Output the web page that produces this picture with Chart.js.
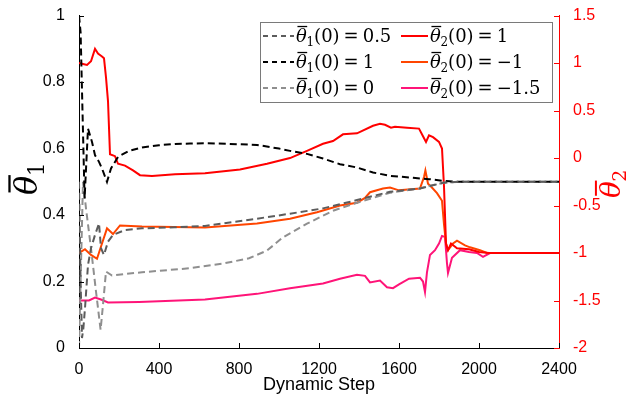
<!DOCTYPE html>
<html>
<head>
<meta charset="utf-8">
<script src="https://cdn.jsdelivr.net/npm/chart.js@4.4.0/dist/chart.umd.min.js"></script>
<style>
  html, body { margin: 0; padding: 0; background: #fff; }
  #wrap { width: 626px; height: 401px; }
</style>
</head>
<body>
<div id="wrap"><canvas id="chart"></canvas></div>
<script>
// theta1 series (left axis)
const stepsT1a = [0, 8, 15, 22, 30, 45, 60, 80, 100, 110, 125, 145, 170, 230, 315, 480, 630, 890, 1055, 1220, 1390, 1555, 1705, 1820, 1900, 2400];
const valsT1a  = [0.5, 0.2, 0.03, 0.06, 0.12, 0.25, 0.3, 0.34, 0.375, 0.3, 0.28, 0.32, 0.34, 0.355, 0.36, 0.363, 0.367, 0.389, 0.404, 0.42, 0.445, 0.47, 0.48, 0.497, 0.5, 0.5];

const stepsT1b = [0, 8, 18, 28, 36, 45, 55, 65, 80, 100, 115, 140, 160, 195, 250, 315, 400, 480, 555, 630, 750, 890, 1000, 1055, 1140, 1220, 1305, 1390, 1470, 1555, 1670, 1750, 1820, 1900, 2400];
const valsT1b  = [1.0, 0.95, 0.7, 0.45, 0.55, 0.66, 0.64, 0.62, 0.58, 0.56, 0.54, 0.5, 0.54, 0.575, 0.593, 0.603, 0.61, 0.614, 0.615, 0.616, 0.614, 0.611, 0.6, 0.593, 0.584, 0.57, 0.553, 0.543, 0.528, 0.518, 0.512, 0.508, 0.503, 0.5, 0.5];

const stepsT1c = [0, 10, 20, 35, 60, 85, 108, 120, 135, 165, 315, 555, 720, 850, 940, 1020, 1140, 1270, 1390, 1555, 1700, 1820, 1900, 2400];
const valsT1c  = [0, 0.25, 0.5, 0.42, 0.3, 0.17, 0.055, 0.13, 0.23, 0.218, 0.228, 0.24, 0.254, 0.27, 0.293, 0.333, 0.374, 0.413, 0.437, 0.467, 0.48, 0.497, 0.5, 0.5];

// theta2 series (right axis)
const stepsT2a = [0, 20, 40, 60, 80, 95, 115, 125, 135, 145, 155, 180, 195, 230, 270, 305, 365, 480, 630, 805, 940, 1055, 1140, 1220, 1270, 1320, 1390, 1470, 1505, 1530, 1560, 1580, 1640, 1700, 1720, 1735, 1750, 1770, 1800, 1815, 1825, 1835, 1845, 1860, 1890, 1950, 2000, 2050, 2400];
const valsT2a  = [1.0, 0.99, 0.98, 1.02, 1.15, 1.1, 1.07, 1.05, 0.85, 0.6, 0.04, 0.02, -0.06, -0.08, -0.13, -0.18, -0.19, -0.17, -0.16, -0.12, -0.06, 0.0, 0.075, 0.15, 0.18, 0.25, 0.26, 0.34, 0.36, 0.35, 0.32, 0.33, 0.32, 0.31, 0.23, 0.17, 0.24, 0.22, 0.17, 0.1, -0.3, -0.9, -0.97, -0.9, -0.95, -0.96, -0.99, -1.0, -1.0];

const stepsT2b = [0, 15, 30, 60, 90, 115, 140, 170, 205, 315, 630, 890, 1055, 1190, 1305, 1390, 1430, 1455, 1520, 1555, 1600, 1705, 1725, 1732, 1745, 1760, 1790, 1815, 1825, 1835, 1845, 1870, 1890, 1930, 1955, 2005, 2040, 2400];
const valsT2b  = [-1.0, -0.98, -0.96, -1.02, -1.06, -0.9, -0.74, -0.8, -0.71, -0.72, -0.73, -0.69, -0.64, -0.57, -0.5, -0.47, -0.42, -0.36, -0.32, -0.31, -0.34, -0.32, -0.2, -0.13, -0.27, -0.3, -0.37, -0.45, -0.7, -0.9, -0.97, -0.9, -0.87, -0.92, -0.94, -0.97, -1.0, -1.0];

const stepsT2c = [0, 50, 80, 110, 145, 300, 630, 890, 1055, 1220, 1305, 1390, 1430, 1455, 1505, 1540, 1570, 1600, 1650, 1705, 1720, 1730, 1740, 1755, 1780, 1800, 1815, 1830, 1840, 1845, 1865, 1905, 1950, 1990, 2020, 2055, 2400];
const valsT2c  = [-1.5, -1.5, -1.47, -1.49, -1.52, -1.515, -1.49, -1.43, -1.37, -1.32, -1.27, -1.23, -1.24, -1.31, -1.29, -1.36, -1.37, -1.33, -1.27, -1.26, -1.3, -1.41, -1.2, -1.02, -0.97, -0.9, -0.82, -0.83, -1.11, -1.21, -1.05, -0.97, -0.99, -1.0, -1.04, -1.0, -1.0];

const series = [
  { sub: '1', init: '0.5',  steps: stepsT1a, vals: valsT1a, axis: 'y',  color: '#5c5c5c', dash: [7, 4] },
  { sub: '1', init: '1',    steps: stepsT1b, vals: valsT1b, axis: 'y',  color: '#000000', dash: [7, 4] },
  { sub: '1', init: '0',    steps: stepsT1c, vals: valsT1c, axis: 'y',  color: '#8f8f8f', dash: [7, 4] },
  { sub: '2', init: '1',    steps: stepsT2a, vals: valsT2a, axis: 'y2', color: '#ff0000', dash: [] },
  { sub: '2', init: '\u22121',   steps: stepsT2b, vals: valsT2b, axis: 'y2', color: '#ff4500', dash: [] },
  { sub: '2', init: '\u22121.5', steps: stepsT2c, vals: valsT2c, axis: 'y2', color: '#ff1478', dash: [] }
];

const datasets = series.map(s => ({
  label: '\u03B8\u0304' + (s.sub === '1' ? '\u2081' : '\u2082') + '(0) = ' + s.init,
  sub: s.sub,
  init: s.init,
  data: s.steps.map((x, i) => ({ x: x, y: s.vals[i] })),
  yAxisID: s.axis,
  borderColor: s.color,
  borderWidth: 2,
  borderDash: s.dash,
  pointRadius: 0,
  tension: 0,
  fill: false
}));

const tickFont = { family: '"Liberation Sans", Arial, sans-serif', size: 16 };
const plainNum = v => String(parseFloat(Number(v).toFixed(2)));

function line(ctx, x1, y1, x2, y2) {
  ctx.beginPath(); ctx.moveTo(x1, y1); ctx.lineTo(x2, y2); ctx.stroke();
}

// draws overlined italic theta with a subscript, returns advance
function drawTheta(ctx, x, y, sub, size, color) {
  ctx.fillStyle = color;
  ctx.strokeStyle = color;
  ctx.textBaseline = 'alphabetic';
  ctx.textAlign = 'left';
  ctx.font = 'italic ' + size + 'px "DejaVu Serif", serif';
  const w = ctx.measureText('\u03B8').width;
  ctx.fillText('\u03B8', x, y);
  ctx.lineWidth = Math.max(1, size / 14);
  line(ctx, x + size * 0.08, y - size * 0.86, x + w + size * 0.02, y - size * 0.86);
  ctx.font = Math.round(size * 0.68) + 'px "DejaVu Serif", serif';
  ctx.fillText(sub, x + w - size * 0.02, y + size * 0.22);
  return w - size * 0.02 + ctx.measureText(sub).width;
}

const overlay = {
  id: 'overlay',
  afterDraw(chart) {
    const ctx = chart.ctx;
    const { x, y, y2 } = chart.scales;
    ctx.save();
    // inward ticks
    ctx.lineWidth = 1;
    ctx.strokeStyle = '#000';
    x.ticks.forEach(t => {
      const px = Math.round(x.getPixelForValue(t.value)) + 0.5;
      line(ctx, px, x.top, px, x.top - 5);
    });
    y.ticks.forEach(t => {
      const py = Math.round(y.getPixelForValue(t.value)) + 0.5;
      line(ctx, y.right, py, y.right + 5, py);
    });
    ctx.strokeStyle = '#ff0000';
    y2.ticks.forEach(t => {
      const py = Math.round(y2.getPixelForValue(t.value)) + 0.5;
      line(ctx, y2.left, py, y2.left - 5, py);
    });

    // axis titles, rotated bottom-to-top
    ctx.save();
    ctx.translate(37, 195);
    ctx.rotate(-Math.PI / 2);
    drawTheta(ctx, 0, 0, '1', 32, '#000');
    ctx.restore();
    ctx.save();
    ctx.translate(620, 198);
    ctx.rotate(-Math.PI / 2);
    drawTheta(ctx, 0, 0, '2', 28, '#ff0000');
    ctx.restore();

    // legend box
    const bx = 260, by = 22, bw = 292, bh = 80;
    ctx.fillStyle = '#fff';
    ctx.fillRect(bx, by, bw, bh);
    ctx.strokeStyle = '#7a7a7a';
    ctx.lineWidth = 1;
    ctx.strokeRect(bx + 0.5, by + 0.5, bw, bh);
    const rows = [36, 62, 88];
    const cols = [{ l0: 263, l1: 294, tx: 296 }, { l0: 401, l1: 428, tx: 430 }];
    chart.data.datasets.forEach((ds, i) => {
      const c = cols[ds.sub === '1' ? 0 : 1];
      const r = rows[i % 3];
      ctx.strokeStyle = ds.borderColor;
      ctx.lineWidth = 2;
      ctx.setLineDash(ds.borderDash.length ? [5, 4] : []);
      line(ctx, c.l0, r, c.l1, r);
      ctx.setLineDash([]);
      const base = r + 6;
      let tx = c.tx;
      tx += drawTheta(ctx, tx, base, ds.sub, 18, '#000');
      ctx.font = '18px "DejaVu Serif", serif';
      ctx.fillText('(0)', tx, base);
      tx += ctx.measureText('(0)').width + 4;
      ctx.fillText('=', tx, base);
      tx += ctx.measureText('=').width + 4;
      ctx.fillText(ds.init, tx, base);
    });
    ctx.restore();
  }
};

new Chart(document.getElementById('chart'), {
  type: 'line',
  data: { datasets: datasets },
  options: {
    responsive: true,
    maintainAspectRatio: false,
    animation: false,
    devicePixelRatio: 1,
    layout: { padding: { top: 14, left: 0, right: 0, bottom: 0 } },
    plugins: { legend: { display: false }, tooltip: { enabled: false } },
    scales: {
      x: {
        type: 'linear',
        min: 0, max: 2400,
        grid: { display: false },
        border: { color: '#000', width: 1 },
        ticks: { stepSize: 400, color: '#000', font: tickFont, padding: 4, maxRotation: 0, callback: plainNum },
        title: { display: true, text: 'Dynamic Step', color: '#000',
                 font: { family: '"Liberation Sans", Arial, sans-serif', size: 18 },
                 padding: { top: 0, bottom: 5 } },
        afterFit(s) { s.height = 53; }
      },
      y: {
        position: 'left',
        min: 0, max: 1,
        grid: { display: false },
        border: { color: '#000', width: 1 },
        ticks: { stepSize: 0.2, color: '#000', font: tickFont, padding: 6, callback: plainNum },
        afterFit(s) { s.width = 79; }
      },
      y2: {
        position: 'right',
        min: -2, max: 1.5,
        grid: { display: false },
        border: { color: '#ff0000', width: 1 },
        ticks: { stepSize: 0.5, color: '#ff0000', font: tickFont, padding: 6, callback: plainNum },
        afterFit(s) { s.width = 67; }
      }
    }
  },
  plugins: [overlay]
});
</script>
</body>
</html>
